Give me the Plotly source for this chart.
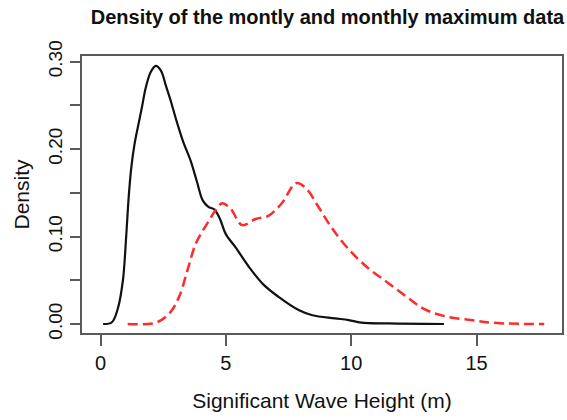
import plotly.graph_objects as go

# Monthly data density (black solid)
monthly_x = [0.1, 0.45, 0.69, 0.89, 1.02, 1.12, 1.22, 1.35, 1.5, 1.65, 1.8, 2.0, 2.2, 2.4, 2.61,
             2.8, 3.0, 3.3, 3.6, 3.85, 4.08, 4.3, 4.53, 4.75, 4.99, 5.4, 5.9, 6.5, 7.1, 7.9, 8.45,
             9.35, 9.9, 10.4, 11.5, 13.7]
monthly_y = [0.000, 0.002, 0.018, 0.05, 0.10, 0.145, 0.178, 0.205, 0.227, 0.248, 0.270, 0.288,
             0.295, 0.290, 0.272, 0.255, 0.235, 0.208, 0.186, 0.162, 0.141, 0.134, 0.131, 0.121,
             0.103, 0.087, 0.066, 0.045, 0.031, 0.016, 0.010, 0.0065, 0.0045, 0.0015, 0.0006, 0.0]

# Monthly maximum data density (red dashed)
maxima_x = [1.08, 2.2, 2.74, 3.13, 3.47, 3.8, 4.19, 4.59, 4.85, 5.18, 5.65, 6.18, 6.71, 7.23, 7.8,
            8.2, 8.69, 9.22, 9.88, 10.67, 11.47, 12.26, 12.92, 13.72, 14.77, 15.83, 17.7]
maxima_y = [0.0, 0.0015, 0.012, 0.031, 0.062, 0.092, 0.112, 0.130, 0.138, 0.132, 0.113, 0.120,
            0.124, 0.138, 0.161, 0.155, 0.134, 0.110, 0.086, 0.064, 0.047, 0.030, 0.017, 0.009,
            0.0045, 0.001, 0.0]

x_ticks = [0, 5, 10, 15]
y_tickvals = [0.0, 0.05, 0.10, 0.15, 0.20, 0.25, 0.30]
y_ticktext = ["0.00", "", "0.10", "", "0.20", "", "0.30"]

title_text = "Density of the montly and monthly maximum data"
x_title = "Significant Wave Height (m)"
y_title = "Density"

FONT = "Liberation Sans, Arial, sans-serif"
AXC = "#5a5a5a"
TXT = "#111"

fig = go.Figure()
fig.add_trace(go.Scatter(x=monthly_x, y=monthly_y, mode="lines",
                         line=dict(color="#111111", width=2.2, shape="spline", smoothing=1.0),
                         showlegend=False, hoverinfo="skip"))
fig.add_trace(go.Scatter(x=maxima_x, y=maxima_y, mode="lines",
                         line=dict(color="#ff2a2a", width=2.5, dash="10px,5px", shape="spline", smoothing=1.0),
                         showlegend=False, hoverinfo="skip"))

fig.update_layout(
    width=567, height=420,
    margin=dict(l=82, r=3, t=56, b=87),
    paper_bgcolor="white", plot_bgcolor="white",
    font=dict(family=FONT, color=TXT),
    title=dict(text="<b>" + title_text + "</b>", xref="container", yref="container",
               x=327.5 / 567, y=1 - 17 / 420, xanchor="center", yanchor="middle",
               font=dict(size=20, family=FONT, color=TXT)),
    xaxis=dict(range=[-0.743, 18.41], tickvals=x_ticks, ticks="outside", ticklen=11, tickwidth=1.5,
               tickcolor=AXC, showline=True, linecolor=AXC, linewidth=2, mirror=True,
               showgrid=False, zeroline=False, tickfont=dict(size=20, family=FONT, color=TXT),
               title=dict(text=x_title, font=dict(size=21, family=FONT, color=TXT), standoff=20)),
    yaxis=dict(range=[-0.0103, 0.3064], tickvals=y_tickvals, ticktext=y_ticktext, ticks="outside",
               ticklen=10, tickwidth=1.5, tickcolor=AXC, showline=True, linecolor=AXC, linewidth=2,
               mirror=True, showgrid=False, zeroline=False, tickangle=-90,
               tickfont=dict(size=19, family=FONT, color=TXT),
               title=dict(text=y_title, font=dict(size=21, family=FONT, color=TXT), standoff=10)),
)

fig.write_html("out.html")
